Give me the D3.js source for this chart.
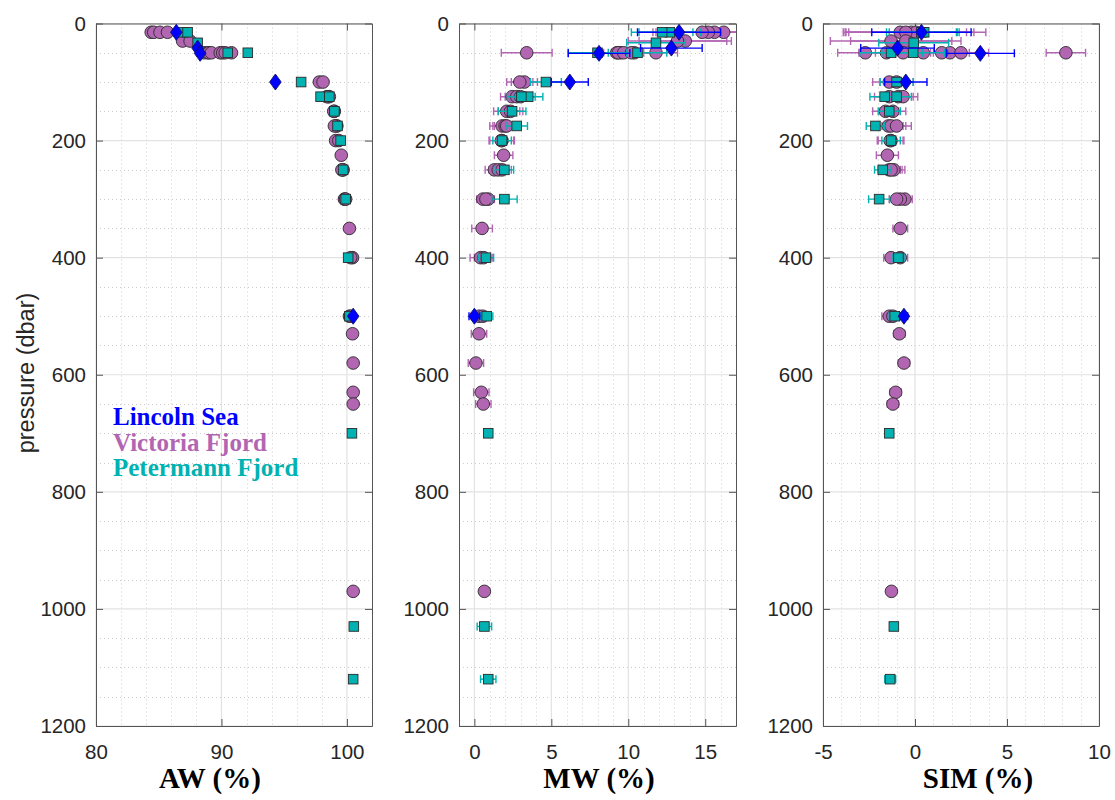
<!DOCTYPE html>
<html>
<head>
<meta charset="utf-8">
<script src="https://cdn.jsdelivr.net/npm/d3@7"></script>
<style>
  html, body { margin: 0; padding: 0; background: #ffffff; }
  svg { display: block; }
</style>
</head>
<body>
<svg id="chart" width="1115" height="800"></svg>
<script>
// ---------------- DATA ----------------
// Lincoln Sea (blue diamonds)
const lsP      = [15, 42, 51, 100, 500];
const lsAW     = [86.4, 88.1, 88.3, 94.3, 100.5];
const lsMW     = [13.3, 12.8, 8.1, 6.2, 0.0];
const lsMWerr  = [2.7, 2.0, 2.0, 1.2, 0.35];
const lsSIM    = [0.35, -0.95, 3.55, -0.5, -0.6];
const lsSIMerr = [2.7, 2.0, 1.85, 1.15, 0.2];

// Victoria Fjord (purple circles)
const vfP      = [15, 15, 15, 15, 30, 30, 50, 50, 50, 50, 50, 50, 50, 50,
                  100, 100, 125, 125, 125, 150, 150, 175, 175, 175, 200, 200, 225,
                  250, 250, 250, 300, 300, 300, 350, 400, 400, 500, 500, 530, 580, 630, 650, 970];
const vfAW     = [84.4, 84.6, 85.1, 85.7, 86.9, 87.5, 88.6, 88.9, 89.0, 89.2, 89.9, 90.1, 90.3, 90.8,
                  97.8, 98.1, 98.5, 98.6, 98.4, 99.0, 98.95, 99.2, 99.15, 99.0, 99.1, 99.35, 99.55,
                  99.65, 99.7, 99.6, 99.85, 99.8, 99.9, 100.2, 100.45, 100.3, 100.2, 100.3, 100.45, 100.5, 100.5, 100.5, 100.5];
const vfMW     = [16.2, 15.6, 15.2, 14.8, 13.7, 13.2, 3.4, 9.25, 9.5, 9.35, 9.7, 10.4, 10.2, 11.8,
                  3.25, 2.95, 2.45, 2.75, 3.0, 2.1, 2.35, 1.8, 2.0, 2.1, 1.8, 1.75, 1.9,
                  1.3, 1.55, 1.8, 0.55, 0.9, 0.75, 0.5, 0.4, 0.6, 0.3, 0.55, 0.3, 0.1, 0.45, 0.58, 0.65];
const vfMWerr  = [3.3, 3.3, 3.4, 3.2, 3.0, 3.2, 1.65, 1.3, 1.3, 1.3, 1.3, 1.3, 1.3, 1.4,
                  0.85, 0.85, 0.75, 0.75, 0.75, 0.85, 0.8, 0.8, 0.8, 0.8, 0.8, 0.8, 0.6,
                  0.6, 0.6, 0.6, 0.4, 0.4, 0.4, 0.67, 0.68, 0.6, 0.5, 0.5, 0.5, 0.5, 0.5, 0.5, 0.3];
const vfSIM    = [-0.8, -0.2, 0.05, -0.5, -0.5, -1.3, 8.2, 1.9, 2.5, 1.45, 0.45, -0.65, -1.55, -2.7,
                  -1.0, -1.4, -0.9, -1.4, -0.65, -1.6, -1.2, -1.45, -1.3, -1.0, -1.3, -1.35, -1.5,
                  -1.4, -1.15, -1.3, -0.55, -0.8, -1.0, -0.8, -1.3, -0.8, -1.4, -1.2, -0.85, -0.6, -1.05, -1.2, -1.28];
const vfSIMerr = [3.1, 3.4, 3.8, 3.3, 3.0, 3.3, 1.07, 1.5, 1.5, 1.5, 1.5, 1.5, 1.5, 1.5,
                  0.9, 0.9, 0.8, 0.8, 0.8, 0.7, 0.7, 0.8, 0.8, 0.8, 0.7, 0.7, 0.6,
                  0.6, 0.6, 0.6, 0.4, 0.4, 0.4, 0.4, 0.4, 0.4, 0.4, 0.4, 0.3, 0.3, 0.3, 0.3, 0.2];

// Petermann Fjord (teal squares)
const pfP      = [15, 15, 33, 50, 50, 100, 125, 125, 150, 175, 200, 250, 300, 400, 500, 700, 1030, 1120];
const pfAW     = [86.95, 87.3, 88.1, 90.5, 92.1, 96.35, 97.9, 98.6, 99.0, 99.25, 99.5, 99.7, 99.9, 100.1, 100.2, 100.4, 100.55, 100.5];
const pfMW     = [12.7, 12.2, 11.8, 10.6, 8.0, 4.65, 3.5, 3.05, 2.45, 2.75, 1.8, 1.95, 1.95, 0.75, 0.8, 0.9, 0.65, 0.9];
const pfMWerr  = [2.0, 2.0, 1.9, 1.9, 1.9, 1.0, 0.95, 0.9, 0.9, 0.7, 0.6, 0.6, 0.83, 0.5, 0.4, 0.2, 0.47, 0.5];
const pfSIM    = [0.35, 0.5, -0.07, -1.3, -0.1, -1.0, -1.0, -1.65, -1.4, -2.15, -1.3, -1.75, -1.95, -0.9, -1.1, -1.4, -1.15, -1.35];
const pfSIMerr = [1.9, 1.9, 1.9, 1.7, 1.7, 0.9, 0.8, 0.8, 0.6, 0.5, 0.5, 0.45, 0.57, 0.3, 0.3, 0.2, 0.15, 0.3];

// Axis ticks and labels
const pressureTicks = [0, 200, 400, 600, 800, 1000, 1200];
const awTicks  = [80, 90, 100];
const mwTicks  = [0, 5, 10, 15];
const simTicks = [-5, 0, 5, 10];
const xLabels  = ["AW (%)", "MW (%)", "SIM (%)"];
const yLabel   = "pressure (dbar)";
const legendNames = ["Lincoln Sea", "Victoria Fjord", "Petermann Fjord"];

// ---------------- BUILD ----------------
const colors = { ls: "#0000ff", vf: "#b266b2", pf: "#00b2b2" };

function rows(P, AW, MW, MWe, SIM, SIMe) {
  return P.map((p, i) => ({ p, AW: AW[i], MW: MW[i], MWerr: MWe[i], SIM: SIM[i], SIMerr: SIMe[i] }));
}
const groups = [
  { id: "vf", shape: "circle",  color: colors.vf, data: rows(vfP, vfAW, vfMW, vfMWerr, vfSIM, vfSIMerr) },
  { id: "pf", shape: "square",  color: colors.pf, data: rows(pfP, pfAW, pfMW, pfMWerr, pfSIM, pfSIMerr) },
  { id: "ls", shape: "diamond", color: colors.ls, data: rows(lsP, lsAW, lsMW, lsMWerr, lsSIM, lsSIMerr) }
];

const svg = d3.select("#chart");
const yTop = 23.5, yBottom = 726;
const y = d3.scaleLinear().domain([0, 1200]).range([yTop, yBottom]);

const panels = [
  { key: "AW",  err: null,     domain: [80, 102], ticks: awTicks,  minor: 2, x0: 96,  x1: 372,  label: xLabels[0], labelX: 210 },
  { key: "MW",  err: "MWerr",  domain: [-1, 17],  ticks: mwTicks,  minor: 1, x0: 459, x1: 736,  label: xLabels[1], labelX: 599 },
  { key: "SIM", err: "SIMerr", domain: [-5, 10],  ticks: simTicks, minor: 1, x0: 823, x1: 1099, label: xLabels[2], labelX: 978 }
];

const tickFont = "'Liberation Sans', Arial, Helvetica, sans-serif";
const serif = "'Liberation Serif', 'Times New Roman', Times, serif";
const fmt = d => String(d);

panels.forEach((pn, pi) => {
  const x = d3.scaleLinear().domain(pn.domain).range([pn.x0, pn.x1]);
  const g = svg.append("g");
  const clipId = "clip" + pi;
  svg.append("clipPath").attr("id", clipId).append("rect")
    .attr("x", pn.x0).attr("y", yTop).attr("width", pn.x1 - pn.x0).attr("height", yBottom - yTop);

  // minor grid (dotted)
  const xMinor = d3.range(pn.domain[0], pn.domain[1] + 1e-9, pn.minor).filter(v => !pn.ticks.includes(v));
  const yMinor = d3.range(0, 1201, 50).filter(v => !pressureTicks.includes(v));
  g.append("g").selectAll("line").data(xMinor).join("line")
    .attr("x1", d => Math.round(x(d)) + 0.5).attr("x2", d => Math.round(x(d)) + 0.5)
    .attr("y1", yTop).attr("y2", yBottom)
    .attr("stroke", "#cccccc").attr("stroke-width", 1).attr("stroke-dasharray", "1,3");
  g.append("g").selectAll("line").data(yMinor).join("line")
    .attr("y1", d => Math.round(y(d)) + 0.5).attr("y2", d => Math.round(y(d)) + 0.5)
    .attr("x1", pn.x0).attr("x2", pn.x1)
    .attr("stroke", "#cccccc").attr("stroke-width", 1).attr("stroke-dasharray", "1,3");
  // major grid
  g.append("g").selectAll("line").data(pn.ticks).join("line")
    .attr("x1", d => x(d)).attr("x2", d => x(d)).attr("y1", yTop).attr("y2", yBottom)
    .attr("stroke", "#e2e2e2").attr("stroke-width", 1.2);
  g.append("g").selectAll("line").data(pressureTicks).join("line")
    .attr("y1", d => y(d)).attr("y2", d => y(d)).attr("x1", pn.x0).attr("x2", pn.x1)
    .attr("stroke", "#e2e2e2").attr("stroke-width", 1.2);

  // axes via d3 (inward ticks, box on)
  const tl = 7;
  const axB = d3.axisBottom(x).tickValues(pn.ticks).tickFormat(fmt).tickSizeInner(-tl).tickSizeOuter(0).tickPadding(18);
  const axT = d3.axisTop(x).tickValues(pn.ticks).tickSizeInner(-tl).tickSizeOuter(0).tickFormat("");
  const axL = d3.axisLeft(y).tickValues(pressureTicks).tickFormat(fmt).tickSizeInner(-tl).tickSizeOuter(0).tickPadding(10);
  const axR = d3.axisRight(y).tickValues(pressureTicks).tickSizeInner(-tl).tickSizeOuter(0).tickFormat("");
  const styleAxis = sel => {
    sel.select(".domain").attr("stroke", "#555").attr("stroke-width", 1);
    sel.selectAll(".tick line").attr("stroke", "#555").attr("stroke-width", 1);
    sel.selectAll(".tick text").attr("fill", "#262626").style("font-family", tickFont).style("font-size", "20.5px");
  };
  g.append("g").attr("transform", `translate(0,${yBottom})`).call(axB).call(styleAxis);
  g.append("g").attr("transform", `translate(0,${yTop})`).call(axT).call(styleAxis);
  g.append("g").attr("transform", `translate(${pn.x0},0)`).call(axL).call(styleAxis);
  g.append("g").attr("transform", `translate(${pn.x1},0)`).call(axR).call(styleAxis);

  // x label
  svg.append("text").attr("x", pn.labelX).attr("y", 788).attr("text-anchor", "middle")
    .style("font-family", serif).style("font-weight", "bold").style("font-size", "29px")
    .attr("fill", "#000").text(pn.label);

  // data
  groups.forEach(grp => {
    const gg = svg.append("g");
    if (pn.err) {
      const eb = gg.append("g").attr("clip-path", `url(#${clipId})`)
        .attr("stroke", grp.color).attr("stroke-width", 1.4).attr("fill", "none");
      grp.data.forEach(d => {
        const xa = x(d[pn.key] - d[pn.err]), xb = x(d[pn.key] + d[pn.err]), yy = y(d.p);
        eb.append("line").attr("x1", xa).attr("x2", xb).attr("y1", yy).attr("y2", yy);
        eb.append("line").attr("x1", xa).attr("x2", xa).attr("y1", yy - 4).attr("y2", yy + 4);
        eb.append("line").attr("x1", xb).attr("x2", xb).attr("y1", yy - 4).attr("y2", yy + 4);
      });
    }
    grp.data.forEach(d => {
      const cx = x(d[pn.key]), cy = y(d.p);
      if (grp.shape === "circle") {
        gg.append("circle").attr("cx", cx).attr("cy", cy).attr("r", 6.3)
          .attr("fill", grp.color).attr("stroke", "#2a2a2a").attr("stroke-width", 0.9);
      } else if (grp.shape === "square") {
        gg.append("rect").attr("x", cx - 4.8).attr("y", cy - 4.8).attr("width", 9.6).attr("height", 9.6)
          .attr("fill", grp.color).attr("stroke", "#2a2a2a").attr("stroke-width", 0.9);
      } else {
        gg.append("path").attr("d", `M${cx},${cy - 8}L${cx + 5.8},${cy}L${cx},${cy + 8}L${cx - 5.8},${cy}Z`)
          .attr("fill", grp.color).attr("stroke", "#10106a").attr("stroke-width", 0.9);
      }
    });
  });
});

// y label
svg.append("text").attr("transform", "translate(34,373) rotate(-90)").attr("text-anchor", "middle")
  .style("font-family", tickFont).style("font-size", "23.5px").attr("fill", "#262626").text(yLabel);

// legend text
const legendColors = [colors.ls, colors.vf, colors.pf];
const legendY = [425, 451, 476];
legendNames.forEach((n, i) => {
  svg.append("text").attr("x", 113).attr("y", legendY[i])
    .style("font-family", serif).style("font-weight", "bold").style("font-size", "25px")
    .attr("fill", legendColors[i]).text(n);
});
</script>
</body>
</html>
